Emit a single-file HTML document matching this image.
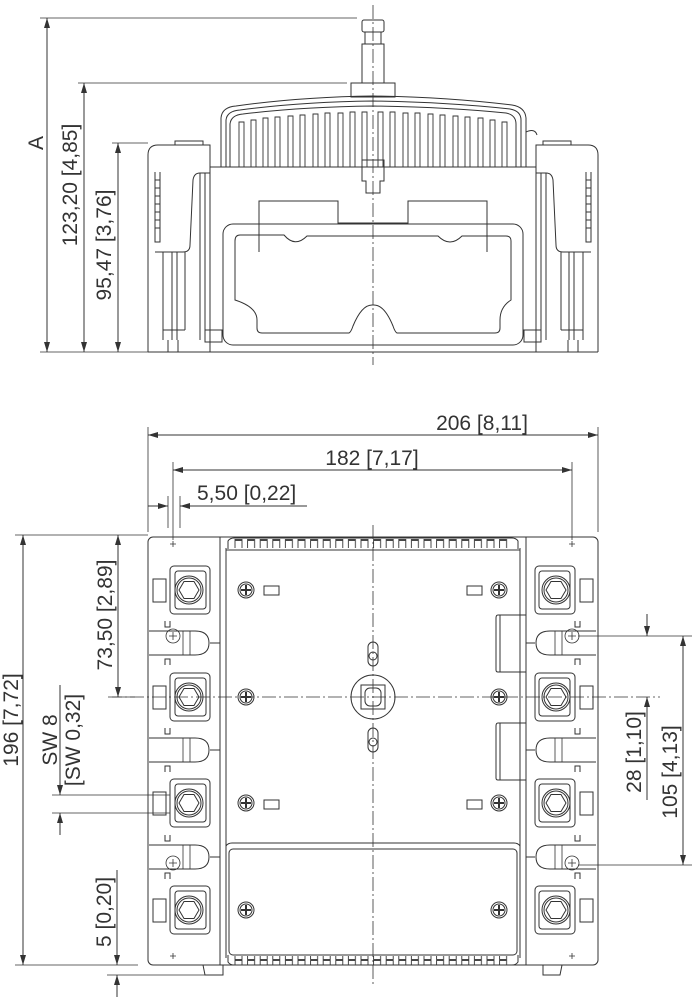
<!DOCTYPE html>
<html><head><meta charset="utf-8"><style>
html,body{margin:0;padding:0;background:#fff}
svg{display:block}
text{font-family:"Liberation Sans",Arial,sans-serif;font-size:21px;fill:#333}
</style></head><body>
<svg width="694" height="1000" viewBox="0 0 694 1000" xmlns="http://www.w3.org/2000/svg">
<defs>
<marker id="ar" viewBox="0 0 10 6" refX="10" refY="3" markerWidth="10" markerHeight="6" orient="auto-start-reverse" markerUnits="userSpaceOnUse"><path d="M0,0 L10,3 L0,6 z" fill="#333"/></marker>
<pattern id="fins" x="234" y="0" width="12.6" height="20" patternUnits="userSpaceOnUse"><rect x="1" y="0.5" width="7" height="19" fill="none" stroke="#333" stroke-width=".9"/></pattern>
<g id="term">
<rect x="-19" y="-24" width="40" height="48" rx="4" fill="none" stroke="#333"/>
<rect x="-14" y="-19" width="31" height="38" rx="3" fill="none" stroke="#333"/>
<circle cx="0" cy="0" r="14" fill="none" stroke="#333"/>
<circle cx="0" cy="0" r="12" fill="none" stroke="#333"/>
<polygon points="-10,0 -5,-8.5 5,-8.5 10,0 5,8.5 -5,8.5" fill="none" stroke="#333"/>
</g>
<g id="scr"><circle r="8" fill="none" stroke="#333"/><circle r="6" fill="none" stroke="#333"/><path d="M-5,0H5M0,-5V5" stroke="#333" stroke-width="2"/></g>
<g id="lobe">
<path d="M-46,-12 H0 Q14,-12 14,0 Q14,12 0,12 H-46" fill="none" stroke="#333"/>
<path d="M-30,-22 V-16 H-25 V-22 M-30,22 V16 H-25 V22" fill="none" stroke="#333"/>
<path d="M-12,-12 V12 M-5,-12 V12" fill="none" stroke="#333" stroke-width=".8"/>
</g>
</defs>
<g stroke="#333" stroke-width="1" fill="none">
<!-- ===== TOP VIEW ===== -->
<line x1="40" y1="18" x2="357" y2="18" stroke-width=".8"/>
<line x1="78" y1="83" x2="347" y2="83" stroke-width=".8"/>
<line x1="112" y1="143" x2="148" y2="143" stroke-width=".8"/>
<line x1="40" y1="352" x2="148" y2="352" stroke-width=".8"/>
<line x1="47" y1="18" x2="47" y2="352" marker-start="url(#ar)" marker-end="url(#ar)"/>
<line x1="84" y1="83" x2="84" y2="352" marker-start="url(#ar)" marker-end="url(#ar)"/>
<line x1="118" y1="143" x2="118" y2="352" marker-start="url(#ar)" marker-end="url(#ar)"/>
<rect x="362" y="20" width="22" height="12" rx="2"/>
<rect x="365" y="32" width="16" height="12"/>
<rect x="362" y="44" width="22" height="39"/>
<rect x="351" y="83" width="44" height="14"/>
<path d="M221,167 V118 Q222,107 236,106 Q300,97 373,96 Q446,97 512,105 Q525,107 526,118 V167"/>
<path d="M226,167 V120 Q227,111 240,110 Q300,102 373,101 Q446,102 510,109 Q521,111 521,120 V167"/>
<path d="M230,167 V124 Q231,115 243,114 Q300,107 373,106 Q446,107 506,113 Q516,115 516,124 V167"/>
<path d="M526,132 Q535,128 537,135"/>
<g stroke-width=".9">
<path d="M239,167 V122 H244 V167 M251,167 V120 H256 V167 M263,167 V118 H268 V167 M275,167 V117 H280 V167 M288,167 V116 H293 V167 M300,167 V115 H305 V167 M313,167 V114 H318 V167 M325,167 V113 H330 V167 M338,167 V113 H343 V167 M350,167 V112 H355 V167 M362,167 V112 H367 V167 M378,167 V112 H383 V167 M390,167 V112 H395 V167 M403,167 V113 H408 V167 M415,167 V113 H420 V167 M428,167 V114 H433 V167 M440,167 V115 H445 V167 M453,167 V116 H458 V167 M465,167 V117 H470 V167 M478,167 V118 H483 V167 M490,167 V120 H495 V167 M502,167 V122 H507 V167"/>
</g>
<path d="M362,167 V160 H384 V167 M362,167 V181 H366 V193 H380 V181 H384 V167"/>
<line x1="210" y1="167" x2="536" y2="167"/>
<path d="M148,352 V155 Q148,145 158,145 H210 V352"/>
<path d="M175,145 V141 H203 V145"/>
<path d="M598,352 V155 Q598,145 588,145 H536 V352"/>
<path d="M543,145 V141 H571 V145"/>
<path d="M148,352 H598"/>
<path d="M155,252 H183 Q190,252 190,245 L193,180 Q194,173 200,173 H210"/>
<path d="M591,252 H563 Q556,252 556,245 L553,180 Q552,173 546,173 H536"/>
<path d="M155,172 V242 H160 V172 M586,172 V242 H591 V172"/>
<path d="M160,180 H155 M160,188 H155 M160,196 H155 M160,204 H155 M160,212 H155 M160,220 H155 M160,228 H155 M586,180 H591 M586,188 H591 M586,196 H591 M586,204 H591 M586,212 H591 M586,220 H591 M586,228 H591"/>
<path d="M163,252 V340 M172,252 V340 M177,252 V340 M185,252 V330 M200,173 V340 M205,173 V340"/>
<path d="M583,252 V340 M574,252 V340 M569,252 V340 M561,252 V330 M546,173 V340 M541,173 V340"/>
<path d="M163,330 H185 M168,340 V352 H178 V340 M561,330 H583 M568,340 V352 H578 V340"/>
<rect x="205" y="330" width="17" height="12"/>
<rect x="524" y="330" width="17" height="12"/>
<path d="M259,252 V201 H338 V223 H408 V201 H487 V252"/>
<rect x="223" y="224" width="300" height="121" rx="10"/>
<path d="M240,235 H284 Q295,248 307,236 H438 Q450,248 462,236 H506 Q511,236 511,241 V300 Q500,307 500,320 V328 Q500,333 495,333 H397 Q395,332 393,326 Q384,304 373,305 Q362,304 353,326 Q351,332 349,333 H262 Q257,333 257,328 V320 Q257,307 235,300 V241 Q235,235 240,235"/>
<line x1="373" y1="5" x2="373" y2="365" stroke-dasharray="14,3,2,3" stroke-width=".8"/>

<!-- ===== BOTTOM VIEW ===== -->
<line x1="148" y1="427" x2="148" y2="532" stroke-width=".8"/>
<line x1="598" y1="427" x2="598" y2="532" stroke-width=".8"/>
<line x1="173" y1="462" x2="173" y2="540" stroke-width=".8"/>
<line x1="572" y1="462" x2="572" y2="540" stroke-width=".8"/>
<line x1="168" y1="496" x2="168" y2="528" stroke-width=".8"/>
<line x1="180" y1="496" x2="180" y2="528" stroke-width=".8"/>
<line x1="148" y1="435" x2="598" y2="435" marker-start="url(#ar)" marker-end="url(#ar)"/>
<line x1="173" y1="470" x2="572" y2="470" marker-start="url(#ar)" marker-end="url(#ar)"/>
<line x1="148" y1="506" x2="168" y2="506" marker-end="url(#ar)"/>
<line x1="307" y1="506" x2="180" y2="506" marker-end="url(#ar)"/>
<line x1="15" y1="535" x2="148" y2="535" stroke-width=".8"/>
<line x1="112" y1="697" x2="135" y2="697" stroke-width=".8"/>
<line x1="15" y1="965" x2="138" y2="965" stroke-width=".8"/>
<line x1="107" y1="975" x2="210" y2="975" stroke-width=".8"/>
<line x1="23" y1="535" x2="23" y2="965" marker-start="url(#ar)" marker-end="url(#ar)"/>
<line x1="118" y1="535" x2="118" y2="697" marker-start="url(#ar)" marker-end="url(#ar)"/>
<line x1="52" y1="795" x2="170" y2="795" stroke-width=".8"/>
<line x1="52" y1="813" x2="170" y2="813" stroke-width=".8"/>
<line x1="60" y1="685" x2="60" y2="795" marker-end="url(#ar)"/>
<line x1="60" y1="835" x2="60" y2="813" marker-end="url(#ar)"/>
<line x1="117" y1="870" x2="117" y2="965" marker-end="url(#ar)"/>
<line x1="117" y1="997" x2="117" y2="975" marker-end="url(#ar)"/>
<line x1="578" y1="636" x2="692" y2="636" stroke-width=".8"/>
<line x1="578" y1="865" x2="692" y2="865" stroke-width=".8"/>
<line x1="647" y1="614" x2="647" y2="636" marker-end="url(#ar)"/>
<line x1="647" y1="800" x2="647" y2="697" marker-end="url(#ar)"/>
<line x1="683" y1="636" x2="683" y2="865" marker-start="url(#ar)" marker-end="url(#ar)"/>
<line x1="373" y1="525" x2="373" y2="985" stroke-dasharray="14,3,2,3" stroke-width=".8"/>
<line x1="108" y1="697" x2="660" y2="697" stroke-dasharray="14,3,2,3" stroke-width=".8"/>

<rect x="148" y="537" width="450" height="428" rx="5"/>
<path d="M220,537 V965 M226,548 V958 M526,537 V965 M520,548 V958"/>
<path d="M226,550 H520"/>
<path d="M228,549 V541 Q230,538 234,538 H512 Q516,538 518,541 V549"/>
<rect x="234" y="539" width="277" height="9" fill="url(#fins)" stroke="none"/>
<path d="M226,846 Q228,843 232,843 H514 Q518,843 520,846"/>
<rect x="229" y="849" width="288" height="106" rx="4"/>
<path d="M228,955 V962 Q230,965 234,965 H512 Q516,965 518,962 V955"/>
<rect x="234" y="956" width="277" height="9" fill="url(#fins)" stroke="none"/>
<path d="M203,965 L205,975 H223 V965 M543,965 V975 H560 L562,965"/>
<use href="#term" x="189" y="590"/><use href="#term" x="189" y="697"/><use href="#term" x="189" y="803"/><use href="#term" x="189" y="910"/>
<g transform="translate(745,0) scale(-1,1)">
<use href="#term" x="189" y="590"/><use href="#term" x="189" y="697"/><use href="#term" x="189" y="803"/><use href="#term" x="189" y="910"/>
</g>
<rect x="153" y="579" width="13" height="23"/><rect x="153" y="686" width="13" height="23"/><rect x="153" y="792" width="13" height="23"/><rect x="153" y="899" width="13" height="23"/>
<rect x="580" y="579" width="13" height="23"/><rect x="580" y="686" width="13" height="23"/><rect x="580" y="792" width="13" height="23"/><rect x="580" y="899" width="13" height="23"/>
<use href="#lobe" x="195" y="643"/><use href="#lobe" x="195" y="750"/><use href="#lobe" x="195" y="857"/>
<g transform="translate(745,0) scale(-1,1)"><use href="#lobe" x="195" y="643"/><use href="#lobe" x="195" y="750"/><use href="#lobe" x="195" y="857"/></g>
<path d="M210,643 H220 M210,750 H220 M210,857 H220 M535,643 H526 M535,750 H526 M535,857 H526"/>
<g stroke-width=".8"><circle cx="173" cy="636" r="7"/><path d="M169,636h8M173,632v8"/><circle cx="173" cy="863" r="7"/><path d="M169,863h8M173,859v8"/><circle cx="572" cy="636" r="7"/><path d="M568,636h8M572,632v8"/><circle cx="572" cy="863" r="7"/><path d="M568,863h8M572,859v8"/>
<path d="M173,541v6M170,544h6M572,541v6M569,544h6M173,953v6M170,956h6M572,953v6M569,956h6"/></g>
<use href="#scr" x="246" y="590"/><use href="#scr" x="246" y="697"/><use href="#scr" x="246" y="803"/><use href="#scr" x="246" y="910"/>
<use href="#scr" x="499" y="590"/><use href="#scr" x="499" y="697"/><use href="#scr" x="499" y="803"/><use href="#scr" x="499" y="910"/>
<rect x="264" y="586" width="15" height="9"/><rect x="467" y="586" width="15" height="9"/>
<rect x="264" y="800" width="15" height="9"/><rect x="467" y="800" width="15" height="9"/>
<path d="M526,615 H498 Q496,615 496,618 V670 Q496,672 498,672 H526 M500,615 V672"/>
<path d="M526,723 H498 Q496,723 496,726 V778 Q496,780 498,780 H526 M500,723 V780"/>
<circle cx="373" cy="697" r="22"/>
<rect x="361" y="685" width="24" height="24"/>
<rect x="365" y="688" width="16" height="18" rx="5"/>
<rect x="368" y="642" width="10" height="24" rx="5"/><circle cx="373" cy="656" r="4"/>
<rect x="368" y="728" width="10" height="24" rx="5"/><circle cx="373" cy="742" r="4"/>
</g>
<g>
<text transform="translate(43,143) rotate(-90)" text-anchor="middle">A</text>
<text transform="translate(77,185) rotate(-90)" text-anchor="middle">123,20 [4,85]</text>
<text transform="translate(111,245) rotate(-90)" text-anchor="middle">95,47 [3,76]</text>
<text x="482" y="430" text-anchor="middle">206 [8,11]</text>
<text x="372" y="465" text-anchor="middle">182 [7,17]</text>
<text x="197" y="500">5,50 [0,22]</text>
<text transform="translate(18,720) rotate(-90)" text-anchor="middle">196 [7,72]</text>
<text transform="translate(112,615) rotate(-90)" text-anchor="middle">73,50 [2,89]</text>
<text transform="translate(57,740) rotate(-90)" text-anchor="middle">SW 8</text>
<text transform="translate(80,740) rotate(-90)" text-anchor="middle">[SW 0,32]</text>
<text transform="translate(111,912) rotate(-90)" text-anchor="middle">5 [0,20]</text>
<text transform="translate(641,752) rotate(-90)" text-anchor="middle">28 [1,10]</text>
<text transform="translate(677,772) rotate(-90)" text-anchor="middle">105 [4,13]</text>
</g>
</svg>
</body></html>
